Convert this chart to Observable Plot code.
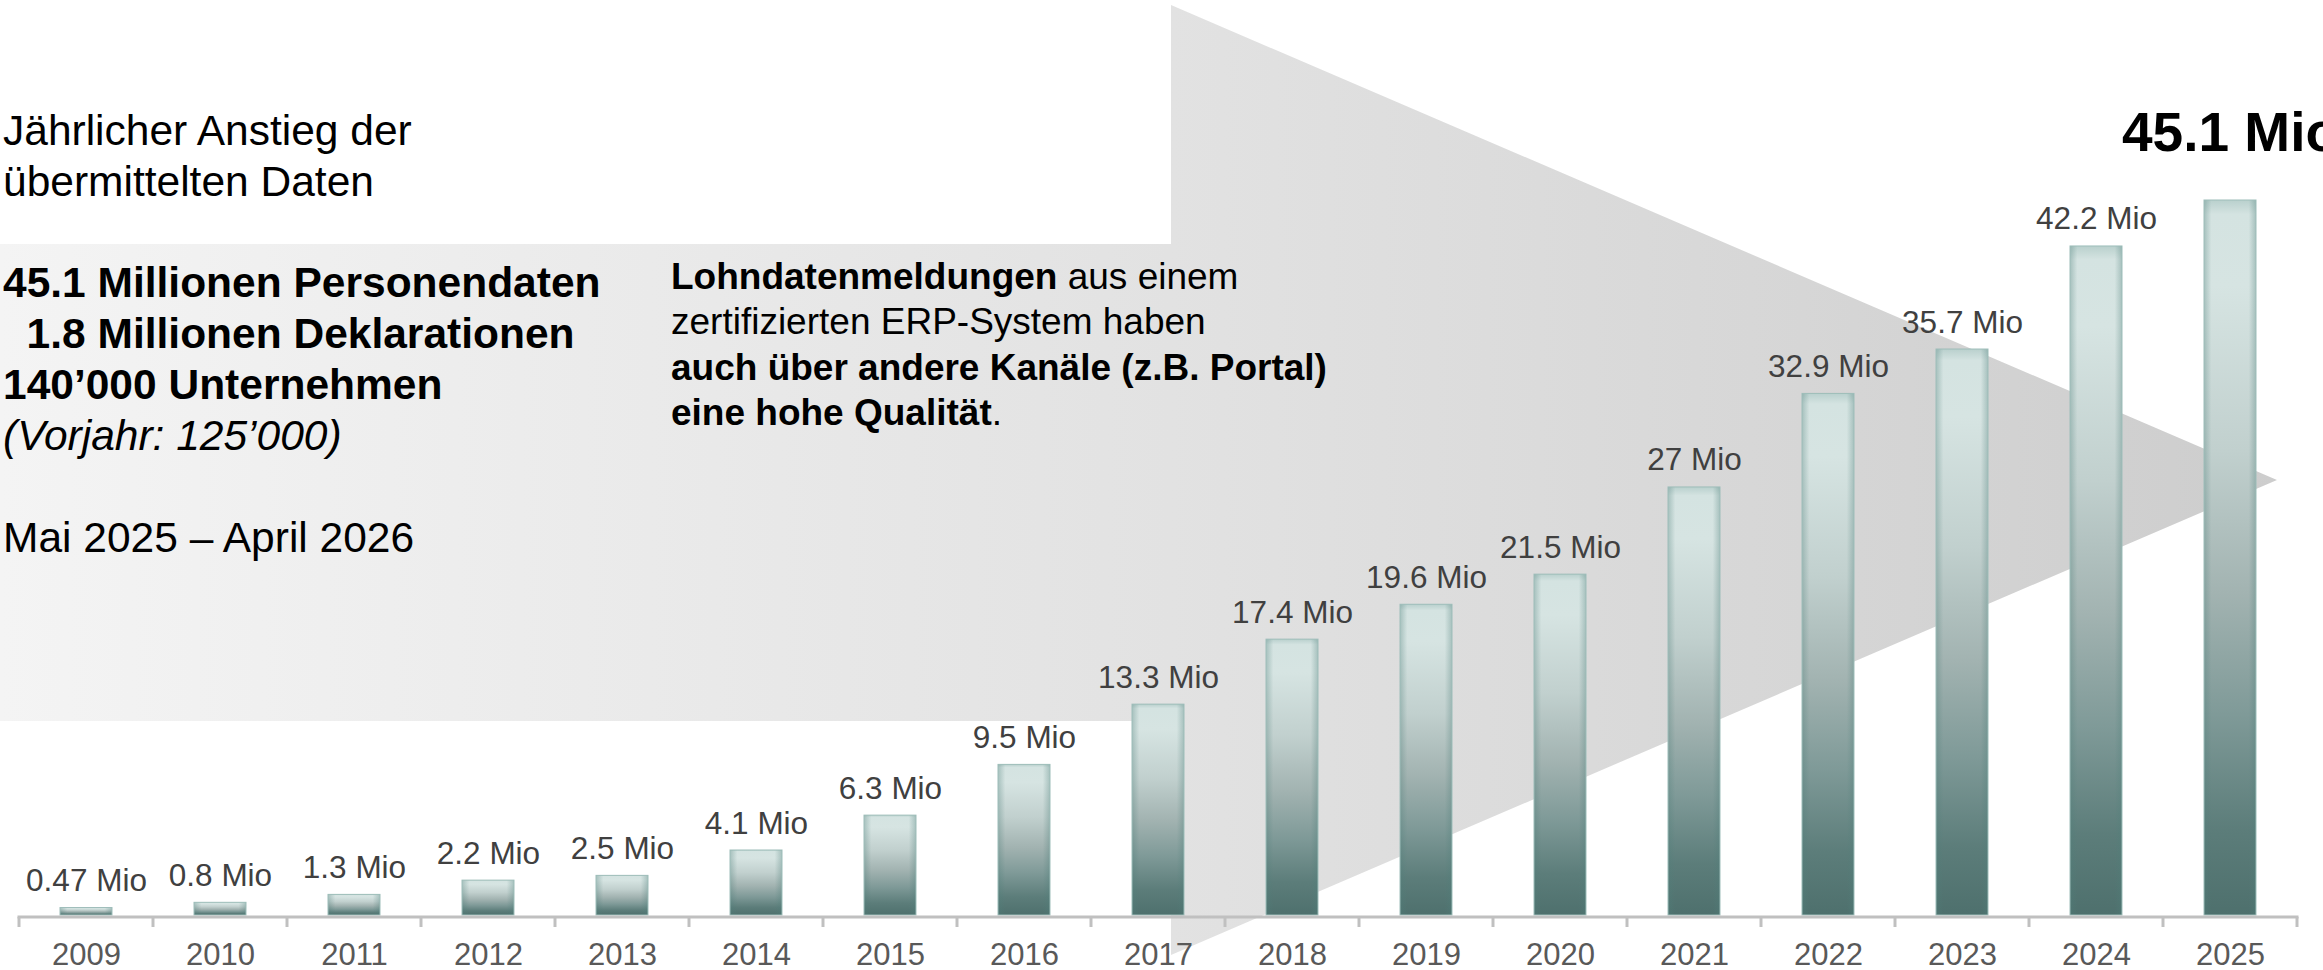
<!DOCTYPE html>
<html>
<head>
<meta charset="utf-8">
<script src="https://cdn.jsdelivr.net/npm/d3@7"></script>
<script src="https://cdn.jsdelivr.net/npm/@observablehq/plot@0.6"></script>
<style>
  html, body { margin: 0; padding: 0; background: #fff; }
  #wrap { position: relative; width: 2323px; height: 970px; overflow: hidden; font-family: "Liberation Sans", Arial, sans-serif; }
  #arrow { position: absolute; left: 0; top: 0; width: 2323px; height: 970px;
    background: linear-gradient(90deg, #f4f4f4 0px, #e2e2e2 1170px, #cdcdcd 2277px);
    clip-path: polygon(0px 244px, 1171px 244px, 1171px 5px, 2277px 480px, 1171px 955px, 1171px 721px, 0px 721px); }
  #chart { position: absolute; left: 0; top: 0; }
  .txt { position: absolute; color: #000; white-space: pre; z-index: 3; }
  #t1 { left: 3px; top: 105px; font-size: 42.5px; line-height: 51px; }
  #t2 { left: 3px; top: 257px; font-size: 42.5px; line-height: 51px; }
  #t3 { left: 671px; top: 254px; font-size: 37px; line-height: 45.3px; }
</style>
</head>
<body>
<div id="wrap">
  <div id="arrow"></div>
  <div id="chart"></div>
  <div class="txt" id="t1">Jährlicher Anstieg der
übermittelten Daten</div>
  <div class="txt" id="t2"><b>45.1 Millionen Personendaten</b>
<b>  1.8 Millionen Deklarationen</b>
<b>140’000 Unternehmen</b>
<i>(Vorjahr: 125’000)</i>

Mai 2025 – April 2026</div>
  <div class="txt" id="t3"><b>Lohndatenmeldungen</b> aus einem
zertifizierten ERP-System haben
<b>auch über andere Kanäle (z.B. Portal)</b>
<b>eine hohe Qualität</b>.</div>
</div>
<script>
const years = ["2009","2010","2011","2012","2013","2014","2015","2016","2017","2018","2019","2020","2021","2022","2023","2024","2025"];
const values = [0.47, 0.8, 1.3, 2.2, 2.5, 4.1, 6.3, 9.5, 13.3, 17.4, 19.6, 21.5, 27, 32.9, 35.7, 42.2, 45.1];
const unit = " Mio";

const data = years.map((y, i) => ({year: y, value: values[i], label: values[i] + unit}));
const regular = data.slice(0, -1);
const highlight = data.slice(-1);

function defs() {
  const d = d3.create("svg:defs");
  const v = d.append("linearGradient").attr("id", "barGrad").attr("x1", 0).attr("x2", 0).attr("y1", 0).attr("y2", 1);
  [[0, "#b9d0cd"], [0.02, "#d4e3e1"], [0.12, "#d6e4e2"], [0.35, "#c1d0ce"], [0.55, "#a2b3b1"], [0.72, "#7f9a98"], [0.88, "#5c7d7a"], [1, "#4e706d"]]
    .forEach(([o, c]) => v.append("stop").attr("offset", o).attr("stop-color", c));
  const h = d.append("linearGradient").attr("id", "barEdge").attr("x1", 0).attr("x2", 1).attr("y1", 0).attr("y2", 0);
  [[0, 0.35], [0.14, 0], [0.86, 0], [1, 0.35]]
    .forEach(([o, a]) => h.append("stop").attr("offset", o).attr("stop-color", "#4f7f7a").attr("stop-opacity", a));
  return d.node();
}

function axisLine(index, scales, values, dims) {
  const x = scales.x;
  const n = years.length;
  const step = x.step ? x.step() : (dims.width - dims.marginLeft - dims.marginRight) / n;
  const bw = x.bandwidth ? x.bandwidth() : step * 0.385;
  const y0 = scales.y(0);
  const bounds = years.map(yr => x(yr) + bw / 2 - step / 2);
  bounds.push(x(years[n - 1]) + bw / 2 + step / 2);
  const g = d3.create("svg:g");
  g.selectAll("line.tk").data(bounds).join("line").attr("class", "tk")
    .attr("x1", d => d).attr("x2", d => d).attr("y1", y0 + 2).attr("y2", y0 + 12)
    .attr("stroke", "#c0c0c0").attr("stroke-width", 3);
  g.append("line").attr("x1", bounds[0] - 1.5).attr("x2", bounds[n] + 1.5)
    .attr("y1", y0 + 2).attr("y2", y0 + 2).attr("stroke", "#c0c0c0").attr("stroke-width", 3);
  return g.node();
}

const chart = Plot.plot({
  width: 2323,
  height: 970,
  marginTop: 200,
  marginBottom: 55,
  marginLeft: 12,
  marginRight: 19,
  style: {background: "transparent", fontFamily: "'Liberation Sans', Arial, sans-serif", fontSize: "31px", color: "#595959"},
  x: {domain: years, paddingInner: 0.615, paddingOuter: 0.3075, tickSize: 0, tickPadding: 27, label: null},
  y: {domain: [0, 45.1], axis: null},
  marks: [
    defs,
    Plot.barY(data, {x: "year", y: "value", fill: "url(#barGrad)"}),
    Plot.barY(data, {x: "year", y: "value", fill: "url(#barEdge)", stroke: "#9dbdb9", strokeWidth: 1}),
    axisLine,
    Plot.text(regular, {x: "year", y: "value", text: "label", lineAnchor: "bottom", dy: -17, fontSize: 31.5, fill: "#404040"}),
    Plot.text(highlight, {x: "year", y: "value", text: "label", lineAnchor: "bottom", dy: -50, fontSize: 55, fontWeight: "bold", fill: "#000"})
  ]
});
document.getElementById("chart").appendChild(chart);
</script>
</body>
</html>
